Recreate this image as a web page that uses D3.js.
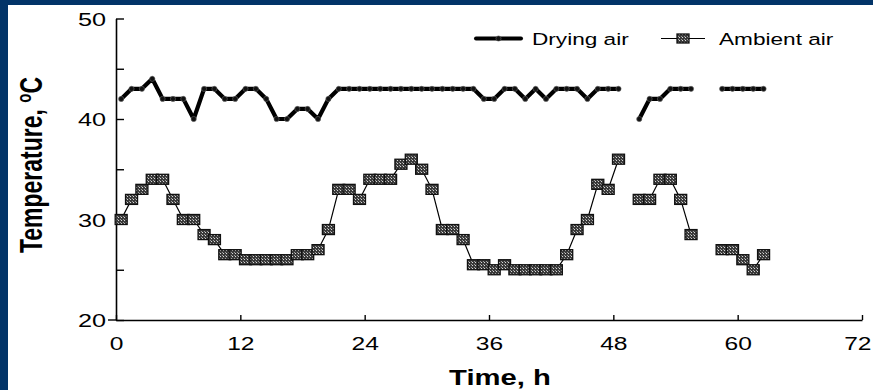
<!DOCTYPE html>
<html>
<head>
<meta charset="utf-8">
<script src="https://cdn.jsdelivr.net/npm/d3@7"></script>
<style>
  html, body { margin: 0; padding: 0; background: #fff; }
  svg { display: block; }
  text { font-family: "Liberation Sans", Arial, sans-serif; fill: #000; }
</style>
</head>
<body>
<svg id="chart" width="873" height="390"></svg>
<script>
// ---------- data ----------
const hours = [0.5,1.5,2.5,3.5,4.5,5.5,6.5,7.5,8.5,9.5,10.5,11.5,12.5,13.5,14.5,15.5,16.5,17.5,18.5,19.5,
  20.5,21.5,22.5,23.5,24.5,25.5,26.5,27.5,28.5,29.5,30.5,31.5,32.5,33.5,34.5,35.5,36.5,37.5,38.5,39.5,
  40.5,41.5,42.5,43.5,44.5,45.5,46.5,47.5,48.5,49.5,50.5,51.5,52.5,53.5,54.5,55.5,56.5,57.5,58.5,59.5,
  60.5,61.5,62.5];
const dryingAir = [42,43,43,44,42,42,42,40,43,43,42,42,43,43,42,40,40,41,41,40,
  42,43,43,43,43,43,43,43,43,43,43,43,43,43,43,42,42,43,43,42,
  43,42,43,43,43,42,43,43,43,null,40,42,42,43,43,43,null,null,43,43,
  43,43,43];
const ambientAir = [30,32,33,34,34,32,30,30,28.5,28,26.5,26.5,26,26,26,26,26,26.5,26.5,27,
  29,33,33,32,34,34,34,35.5,36,35,33,29,29,28,25.5,25.5,25,25.5,25,25,
  25,25,25,26.5,29,30,33.5,33,36,null,32,32,34,34,32,28.5,null,null,27,27,
  26,25,26.5];
const xTicks = [0,12,24,36,48,60,72];
const yTicks = [20,25,30,35,40,45,50];
const yLabels = [20,30,40,50];
const seriesNames = ["Drying air","Ambient air"];
const xTitle = "Time, h";
const yTitle = "Temperature, ";

// ---------- setup ----------
const W = 873, H = 390;
const SX = 1.33; // horizontal stretch of the original artwork text
const svg = d3.select("#chart");

svg.append("rect").attr("x",0).attr("y",0).attr("width",W).attr("height",H).attr("fill","#023468");
svg.append("rect").attr("x",8).attr("y",5).attr("width",W-8).attr("height",H-5).attr("fill","#fff");

const defs = svg.append("defs");
const pat = defs.append("pattern").attr("id","speckle").attr("patternUnits","userSpaceOnUse")
  .attr("width",3).attr("height",3);
pat.append("rect").attr("width",3).attr("height",3).attr("fill","#3a3a3a");
pat.append("rect").attr("x",1).attr("y",1).attr("width",1).attr("height",1).attr("fill","#d8d8d8");
pat.append("rect").attr("x",0).attr("y",0).attr("width",1).attr("height",1).attr("fill","#9a9a9a");

const x = d3.scaleLinear().domain([0,72]).range([116,862]);
const y = d3.scaleLinear().domain([20,50]).range([320,18.5]);

// ---------- axes ----------
const xAxis = d3.axisBottom(x).tickValues(xTicks).tickSizeInner(-5).tickSizeOuter(0).tickPadding(17)
  .tickFormat(d3.format("d"));
const gx = svg.append("g").attr("transform",`translate(0,${y(20)})`).call(xAxis);
gx.select(".domain").attr("stroke","#000").attr("stroke-width",1.6);
gx.selectAll(".tick line").attr("stroke","#000").attr("stroke-width",1.4);
gx.selectAll(".tick text").attr("font-size",18.5).attr("fill","#000")
  .attr("font-family","Liberation Sans, Arial, sans-serif")
  .attr("transform",`scale(${SX},1)`);
// keep the last label inside the picture
gx.selectAll(".tick text").filter(d => d === xTicks[xTicks.length-1])
  .attr("text-anchor","end").attr("x", (W - 2 - x(xTicks[xTicks.length-1])) / SX);

const yAxis = d3.axisLeft(y).tickValues(yTicks).tickSizeInner(-8).tickSizeOuter(0).tickPadding(10)
  .tickFormat(d => yLabels.includes(d) ? d3.format("d")(d) : "");
const gy = svg.append("g").attr("transform",`translate(${x(0)},0)`).call(yAxis);
gy.select(".domain").attr("stroke","#000").attr("stroke-width",1.6);
gy.selectAll(".tick line").attr("stroke","#000").attr("stroke-width",1.4);
gy.selectAll(".tick text").attr("font-size",19).attr("fill","#000")
  .attr("font-family","Liberation Sans, Arial, sans-serif")
  .attr("x",-10/SX).attr("dy","0.36em")
  .attr("transform",`scale(${SX},1)`);
// small outward stub at the origin
svg.append("line").attr("x1",x(0)-8).attr("x2",x(0)).attr("y1",y(20)).attr("y2",y(20))
  .attr("stroke","#000").attr("stroke-width",1.4);

// axis titles
svg.append("text").attr("transform",`translate(500,385) scale(${SX},1)`)
  .attr("text-anchor","middle").attr("font-size",22).attr("font-weight","bold").text(xTitle);
const yt = svg.append("text").attr("transform",`translate(42,165) scale(${SX},1) rotate(-90)`)
  .attr("text-anchor","middle").attr("font-size",23).attr("font-weight","bold");
yt.append("tspan").text(yTitle);
yt.append("tspan").attr("font-size",15).attr("dy",-8).text("o");
yt.append("tspan").attr("dy",8).text("C");

// ---------- series ----------
const dryPts = hours.map((h,i) => ({h, v: dryingAir[i]}));
const ambPts = hours.map((h,i) => ({h, v: ambientAir[i]}));
const line = d3.line().defined(d => d.v !== null).x(d => x(d.h)).y(d => y(d.v));

svg.append("path").datum(dryPts).attr("d",line).attr("fill","none")
  .attr("stroke","#000").attr("stroke-width",4.2).attr("stroke-linejoin","round").attr("stroke-linecap","round");
svg.append("g").selectAll("circle").data(dryPts.filter(d => d.v !== null)).join("circle")
  .attr("cx",d => x(d.h)).attr("cy",d => y(d.v)).attr("r",2.6)
  .attr("fill","#111").attr("stroke","#666").attr("stroke-width",0.6);

svg.append("path").datum(ambPts).attr("d",line).attr("fill","none")
  .attr("stroke","#000").attr("stroke-width",1.2);
svg.append("g").selectAll("rect").data(ambPts.filter(d => d.v !== null)).join("rect")
  .attr("x",d => x(d.h)-6).attr("y",d => y(d.v)-5).attr("width",12).attr("height",10)
  .attr("fill","url(#speckle)").attr("stroke","#111").attr("stroke-width",1.3);

// ---------- legend ----------
const lg = svg.append("g");
lg.append("line").attr("x1",476).attr("x2",521).attr("y1",38.5).attr("y2",38.5)
  .attr("stroke","#000").attr("stroke-width",4).attr("stroke-linecap","round");
lg.append("circle").attr("cx",498.5).attr("cy",38.5).attr("r",2.6).attr("fill","#111").attr("stroke","#666").attr("stroke-width",0.6);
lg.append("text").attr("transform",`translate(532,45) scale(${SX},1)`).attr("font-size",17).text(seriesNames[0]);

lg.append("line").attr("x1",661).attr("x2",705).attr("y1",38.5).attr("y2",38.5)
  .attr("stroke","#000").attr("stroke-width",1.2);
lg.append("rect").attr("x",683-6).attr("y",38.5-4.5).attr("width",12).attr("height",9)
  .attr("fill","url(#speckle)").attr("stroke","#111").attr("stroke-width",1.3);
lg.append("text").attr("transform",`translate(719,45) scale(${SX},1)`).attr("font-size",17).text(seriesNames[1]);
</script>
</body>
</html>
